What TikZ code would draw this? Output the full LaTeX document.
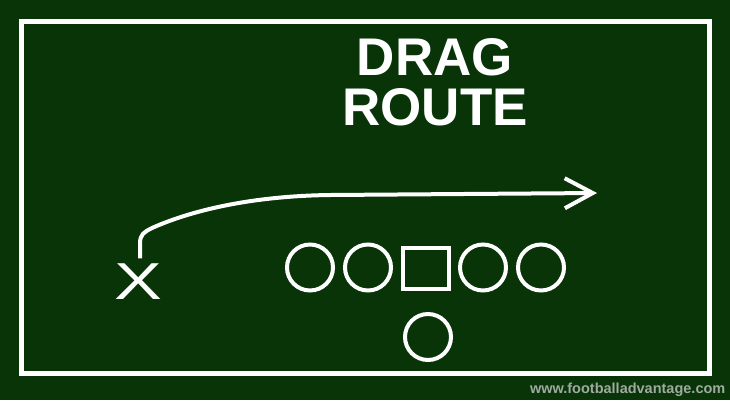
\documentclass[tikz,border=0pt]{standalone}
\usepackage{fontspec}
\setmainfont{Liberation Sans}
\usetikzlibrary{arrows.meta}
\definecolor{fieldgreen}{RGB}{8,52,8}
\definecolor{markgray}{RGB}{160,170,160}
\begin{document}
\begin{tikzpicture}[x=1pt, y=-1pt,
        player/.style={circle, draw=white, line width=4pt, inner sep=0pt, minimum size=46pt},
        center/.style={rectangle, draw=white, line width=4pt, inner sep=0pt, minimum width=46pt, minimum height=41pt},
        route/.style={draw=white, line width=4pt, -{Straight Barb[length=28pt, width=30pt]}},
        titletext/.style={text=white, font=\fontsize{53}{50}\selectfont\bfseries, inner sep=0pt}
      ]
      % field
      \useasboundingbox (0, 0) rectangle (730, 400);
      \fill[fieldgreen] (0, 0) rectangle (730, 400);
      \draw[white, line width=5pt] (21.5, 21.5) rectangle (709.5, 373);
      % title
      \node[titletext, anchor=base] at (435, 75) (drag) {DRAG};
      \node[titletext, anchor=base] at (435, 125) (routename) {ROUTE};

      % offense
      \node[player] at (310, 267.5) (lt) {};
      \node[player] at (368, 267.5) (lg) {};
      \node[center] at (426, 268) (c) {};
      \node[player] at (483, 267.5) (rg) {};
      \node[player] at (541, 267.5) (rt) {};
      \node[player] at (428, 337) (qb) {};
      % receiver
      \node[text=white, inner sep=0pt, font=\fontsize{52}{52}\selectfont] at (138.5, 281.5) (x) {\scalebox{1.38}[1]{X}};
      \coordinate (routeend) at (597, 193);
      % route
      \draw[route] ([shift={(1.5, -5)}]x.north) -- ++(0, -15)
        .. controls ++(0, -9) and (144, 232) .. (152, 228)
        .. controls (190, 211) and (250, 196) .. (330, 195) -- (routeend);

      % site
      \node[text=markgray, font=\fontsize{14.5}{14.5}\selectfont\bfseries, inner sep=0pt, anchor=base east] at (725.5, 393.5) (site) {www.footballadvantage.com};
  \end{tikzpicture}
\end{document}
